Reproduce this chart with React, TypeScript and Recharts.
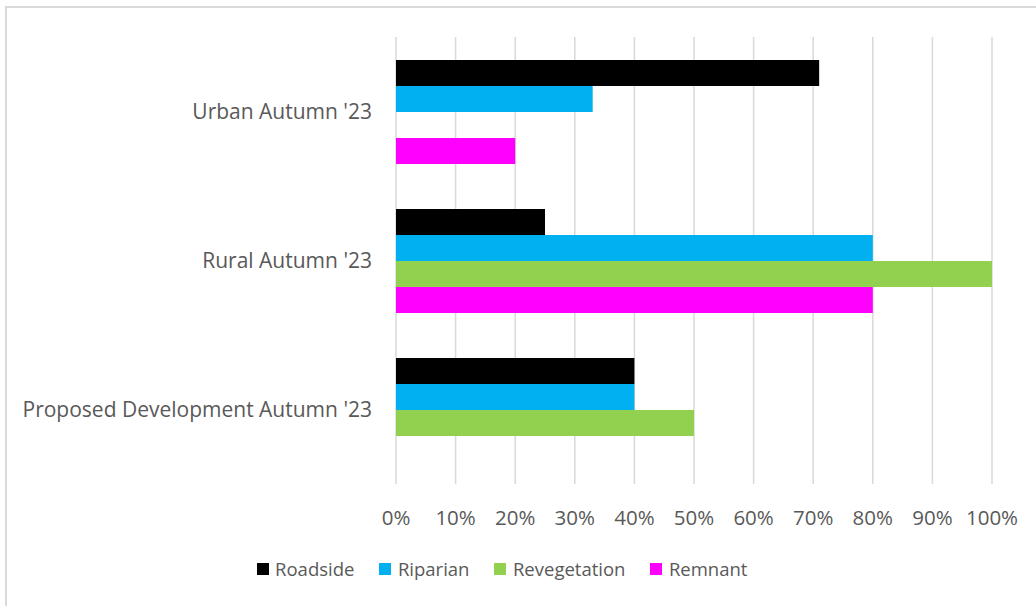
import React from "react";
import {
  BarChart,
  Bar,
  XAxis,
  YAxis,
  CartesianGrid,
  Legend,
} from "recharts";

const sites = ["Urban Autumn '23", "Rural Autumn '23", "Proposed Development Autumn '23"];

const roadside = [0.71, 0.25, 0.4];
const riparian = [0.33, 0.8, 0.4];
const revegetation = [0, 1.0, 0.5];
const remnant = [0.2, 0.8, 0];

const xTicks = [0, 0.1, 0.2, 0.3, 0.4, 0.5, 0.6, 0.7, 0.8, 0.9, 1];

const seriesList = [
  { key: "Roadside", color: "#000000" },
  { key: "Riparian", color: "#00B0F0" },
  { key: "Revegetation", color: "#92D050" },
  { key: "Remnant", color: "#FF00FF" },
];

const data = sites.map((name, i) => ({
  name,
  Roadside: roadside[i],
  Riparian: riparian[i],
  Revegetation: revegetation[i],
  Remnant: remnant[i],
}));

const FONT = "'Open Sans', sans-serif";
const TEXT = "#595959";

const LegendBox = () => (
  <div
    style={{
      display: "flex",
      justifyContent: "center",
      alignItems: "center",
      fontFamily: FONT,
      fontSize: 18.5,
      color: TEXT,
    }}
  >
    {seriesList.map((s) => (
      <div key={s.key} style={{ display: "flex", alignItems: "center", margin: "0 12.5px" }}>
        <span style={{ width: 12, height: 12, background: s.color, marginRight: 6.5 }} />
        <span>{s.key}</span>
      </div>
    ))}
  </div>
);

export default function App() {
  return (
    <div
      style={{
        position: "absolute",
        left: 0,
        top: 0,
        width: 1036,
        height: 606,
        overflow: "hidden",
        background: "#fff",
      }}
    >
      <div
        style={{
          position: "absolute",
          left: 5,
          top: 6,
          width: 1200,
          height: 800,
          border: "2px solid #d9d9d9",
        }}
      />
      <BarChart
        width={1036}
        height={606}
        data={data}
        layout="vertical"
        margin={{ top: 37, right: 44, left: 0, bottom: 57 }}
        barCategoryGap="15.4%"
        barGap={0}
        style={{ position: "absolute", left: 0, top: 0 }}
      >
        <CartesianGrid
          horizontal={false}
          stroke="#d9d9d9"
          strokeWidth={1.5}
          verticalValues={xTicks}
        />
        <XAxis
          type="number"
          domain={[0, 1]}
          ticks={xTicks}
          tickFormatter={(v: number) => `${Math.round(v * 100)}%`}
          axisLine={false}
          tickLine={false}
          tickSize={0}
          tickMargin={26}
          height={40}
          interval={0}
          tick={{ fill: TEXT, fontSize: 20.5, fontFamily: FONT }}
        />
        <YAxis
          type="category"
          dataKey="name"
          width={396}
          axisLine={false}
          tickLine={false}
          tickSize={0}
          tickMargin={24}
          interval={0}
          tick={{ fill: TEXT, fontSize: 21, fontFamily: FONT }}
        />
        <Legend
          layout="vertical"
          align="center"
          verticalAlign="bottom"
          content={<LegendBox />}
          wrapperStyle={{ position: "absolute", left: 0, top: 556, width: 1004, bottom: "auto" }}
        />
        {seriesList.map((s) => (
          <Bar
            key={s.key}
            dataKey={s.key}
            fill={s.color}
            isAnimationActive={false}
          />
        ))}
      </BarChart>
    </div>
  );
}
